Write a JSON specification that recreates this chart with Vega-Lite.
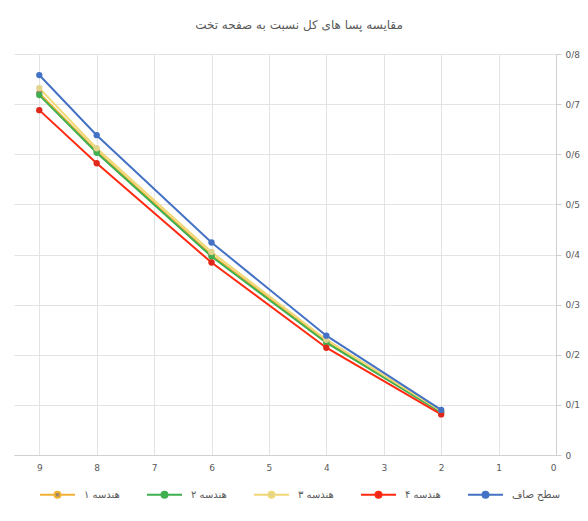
{
  "$schema": "https://vega.github.io/schema/vega-lite/v6.json",
  "width": 542,
  "height": 401,
  "autosize": {"type": "none"},
  "padding": {"left": 14, "top": 54, "right": 32, "bottom": 66},
  "background": "white",
  "view": {"stroke": null},
  "title": {
    "text": "مقایسه پسا های کل نسبت به صفحه تخت",
    "font": "DejaVu Sans",
    "fontSize": 12,
    "fontWeight": "normal",
    "color": "#595959",
    "anchor": "middle",
    "dx": 14,
    "offset": 18
  },
  "data": {
    "values": [
      {"x": 9, "y": 0.722, "s": "هندسه ۱"},
      {"x": 8, "y": 0.606, "s": "هندسه ۱"},
      {"x": 6, "y": 0.399, "s": "هندسه ۱"},
      {"x": 4, "y": 0.226, "s": "هندسه ۱"},
      {"x": 2, "y": 0.086, "s": "هندسه ۱"},
      {"x": 9, "y": 0.718, "s": "هندسه ۲"},
      {"x": 8, "y": 0.603, "s": "هندسه ۲"},
      {"x": 6, "y": 0.396, "s": "هندسه ۲"},
      {"x": 4, "y": 0.224, "s": "هندسه ۲"},
      {"x": 2, "y": 0.085, "s": "هندسه ۲"},
      {"x": 9, "y": 0.732, "s": "هندسه ۳"},
      {"x": 8, "y": 0.612, "s": "هندسه ۳"},
      {"x": 6, "y": 0.405, "s": "هندسه ۳"},
      {"x": 4, "y": 0.230, "s": "هندسه ۳"},
      {"x": 2, "y": 0.088, "s": "هندسه ۳"},
      {"x": 9, "y": 0.688, "s": "هندسه ۴"},
      {"x": 8, "y": 0.582, "s": "هندسه ۴"},
      {"x": 6, "y": 0.384, "s": "هندسه ۴"},
      {"x": 4, "y": 0.214, "s": "هندسه ۴"},
      {"x": 2, "y": 0.081, "s": "هندسه ۴"},
      {"x": 9, "y": 0.758, "s": "سطح صاف"},
      {"x": 8, "y": 0.638, "s": "سطح صاف"},
      {"x": 6, "y": 0.424, "s": "سطح صاف"},
      {"x": 4, "y": 0.238, "s": "سطح صاف"},
      {"x": 2, "y": 0.090, "s": "سطح صاف"}
    ]
  },
  "encoding": {
    "x": {
      "field": "x",
      "type": "quantitative",
      "scale": {"domain": [0, 9.44], "reverse": true, "nice": false, "zero": false},
      "axis": {
        "title": null,
        "values": [0, 1, 2, 3, 4, 5, 6, 7, 8, 9],
        "grid": true,
        "gridColor": "#e3e3e3",
        "domainColor": "#d0d0d0",
        "tickColor": "#d0d0d0",
        "ticks": false,
        "labelColor": "#595959",
        "labelFont": "DejaVu Sans",
        "labelFontSize": 9,
        "labelPadding": 8
      }
    },
    "y": {
      "field": "y",
      "type": "quantitative",
      "scale": {"domain": [0, 0.8], "nice": false},
      "axis": {
        "title": null,
        "orient": "right",
        "values": [0, 0.1, 0.2, 0.3, 0.4, 0.5, 0.6, 0.7, 0.8],
        "labelExpr": "datum.value == 0 ? '0' : replace(format(datum.value, '.1f'), '.', '/')",
        "grid": true,
        "gridColor": "#e3e3e3",
        "domainColor": "#d0d0d0",
        "tickColor": "#d0d0d0",
        "tickSize": 5,
        "labelColor": "#595959",
        "labelFont": "DejaVu Sans",
        "labelFontSize": 9,
        "labelPadding": 4
      }
    },
    "color": {
      "field": "s",
      "type": "nominal",
      "sort": ["هندسه ۱", "هندسه ۲", "هندسه ۳", "هندسه ۴", "سطح صاف"],
      "scale": {
        "domain": ["هندسه ۱", "هندسه ۲", "هندسه ۳", "هندسه ۴", "سطح صاف"],
        "range": ["#F2B134", "#3FAF4F", "#F0D878", "#FF2A10", "#4472C4"]
      },
      "legend": {
        "title": null,
        "orient": "none",
        "legendX": 25,
        "legendY": 422,
        "direction": "horizontal",
        "labelFont": "DejaVu Sans",
        "labelFontSize": 10,
        "labelColor": "#595959",
        "symbolType": "M-1,0L-0.17,0M0.17,0L1,0M-0.17,0A0.17,0.17 0 1,0 0.17,0A0.17,0.17 0 1,0 -0.17,0Z",
        "symbolSize": 1225,
        "symbolStrokeWidth": 2,
        "columnPadding": 23,
        "labelOffset": 8,
        "encode": {
          "symbols": {"update": {"fill": {"scale": "color", "field": "value"}}}
        }
      }
    }
  },
  "layer": [
    {
      "mark": {"type": "line", "strokeWidth": 2}
    },
    {
      "mark": {"type": "point", "filled": true, "size": 40, "opacity": 1},
      "encoding": {
        "fill": {
          "field": "s",
          "type": "nominal",
          "scale": {
            "domain": ["هندسه ۱", "هندسه ۲", "هندسه ۳", "هندسه ۴", "سطح صاف"],
            "range": ["#9E8A66", "#3FAF4F", "#E2D48C", "#E0281A", "#4472C4"]
          },
          "legend": null
        }
      }
    }
  ]
}
